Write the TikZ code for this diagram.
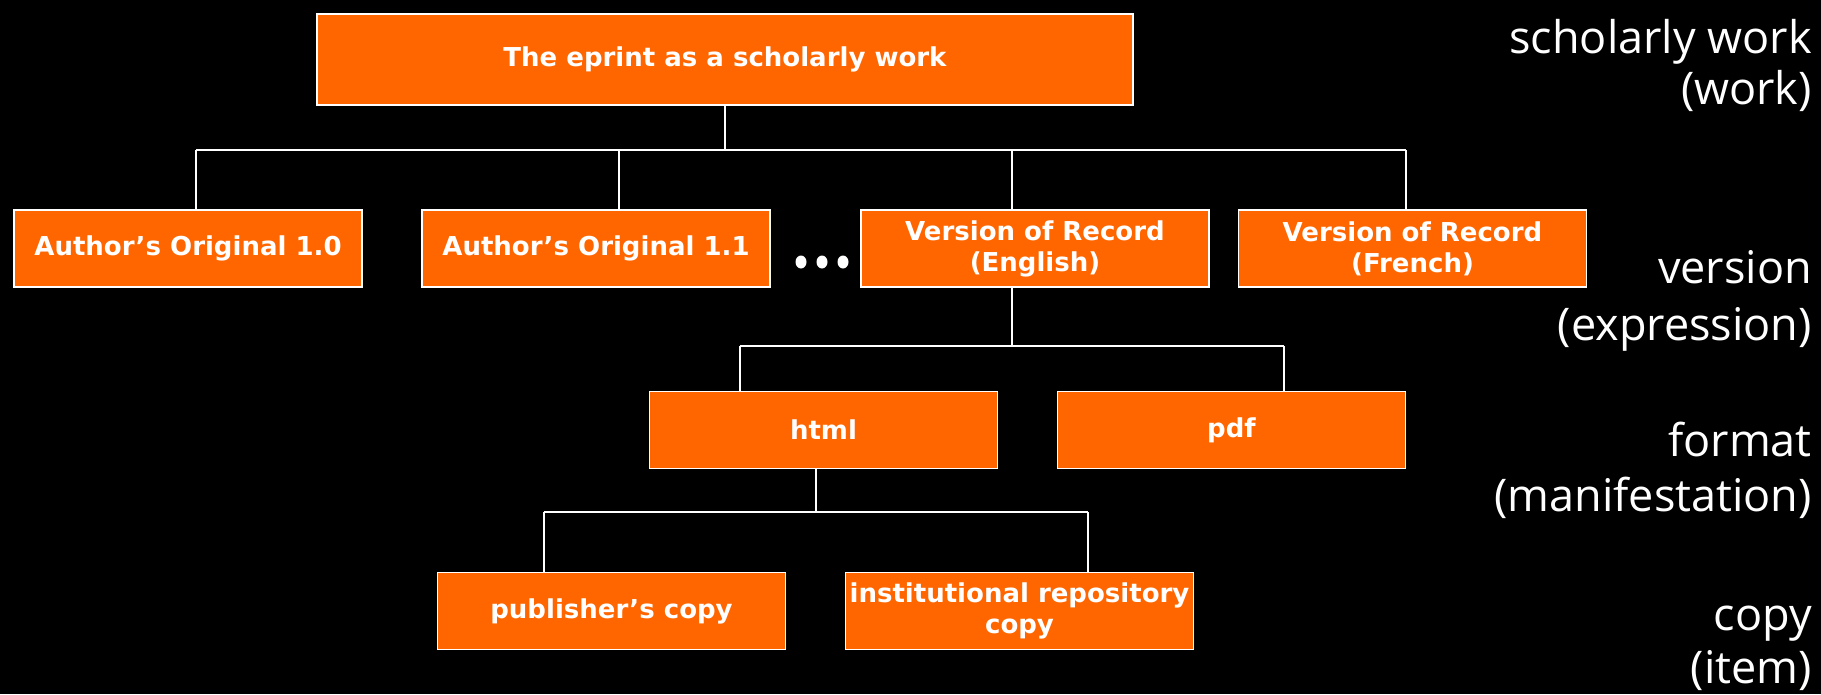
\documentclass[tikz,border=0pt]{standalone}
\usepackage{fontspec}
\newfontfamily\boxfont{DejaVu Sans}
\newfontfamily\levelfont{Open Sans}
\definecolor{boxorange}{HTML}{FF6600}
\tikzset{
  x=1pt, y=-1pt,
  entity/.style={draw=white, line width=1.4pt, fill=boxorange, text=white,
    minimum width=348pt, minimum height=77pt, inner sep=0pt, align=center,
    font=\boxfont\bfseries\fontsize{26}{31}\selectfont},
  link/.style={draw=white, line width=1.4pt},
  level/.style={text=white, anchor=base east, inner sep=0pt,
    font=\levelfont\fontsize{45}{52}\selectfont}
}
\begin{document}
\begin{tikzpicture}
\fill[black] (0,0) rectangle (1821,694);
\useasboundingbox (0,0) rectangle (1821,694);

% boxes
\node[entity, minimum width=816pt, minimum height=91pt] (work) at (725,59.5) {The eprint as a scholarly work};
\node[entity] (ao10) at (188,248.5) {Author’s Original 1.0};
\node[entity] (ao11) at (596,248.5) {Author’s Original 1.1};
\node[entity] (vore) at (1035,248.5) {Version of Record\\(English)};
\node[entity] (vorf) at (1412.5,248.5) {Version of Record\\(French)};
\node[entity] (html) at (823.5,430) {html};
\node[entity] (pdf) at (1231.5,430) {pdf};
\node[entity] (pub) at (611.5,611) {publisher’s copy};
\node[entity] (inst) at (1019.5,611) {institutional repository\\copy};

% ellipsis between versions
\foreach \xx in {801,822,843}
  \fill[white] (\xx,262) ellipse (5.5pt and 6.5pt);

% bus junctions
\coordinate (busA) at (725,150);
\coordinate (a1) at (196,150);
\coordinate (a2) at (619,150);
\coordinate (a3) at (1012,150);
\coordinate (a4) at (1406,150);
\coordinate (busB) at (1012,346);
\coordinate (b1) at (740,346);
\coordinate (b2) at (1284,346);
\coordinate (busC) at (816,512);
\coordinate (c1) at (544,512);
\coordinate (c2) at (1088,512);

% connectors
\draw[link] (work.south -| busA) -- (busA);
\draw[link] (a1) -- (a4);
\draw[link] (a1) -- (ao10.north -| a1);
\draw[link] (a2) -- (ao11.north -| a2);
\draw[link] (a3) -- (vore.north -| a3);
\draw[link] (a4) -- (vorf.north -| a4);

\draw[link] (vore.south -| busB) -- (busB);
\draw[link] (b1) -- (b2);
\draw[link] (b1) -- (html.north -| b1);
\draw[link] (b2) -- (pdf.north -| b2);

\draw[link] (html.south -| busC) -- (busC);
\draw[link] (c1) -- (c2);
\draw[link] (c1) -- (pub.north -| c1);
\draw[link] (c2) -- (inst.north -| c2);

% level captions
\node[level] (l1a) at (1812,53) {scholarly work};
\node[level] (l1b) at (1812,104) {(work)};
\node[level] (l2a) at (1812,283) {version};
\node[level] (l2b) at (1812,340) {(expression)};
\node[level] (l3a) at (1812,456) {format};
\node[level] (l3b) at (1812,511) {(manifestation)};
\node[level] (l4a) at (1812,630) {copy};
\node[level] (l4b) at (1812,683) {(item)};
\end{tikzpicture}
\end{document}
